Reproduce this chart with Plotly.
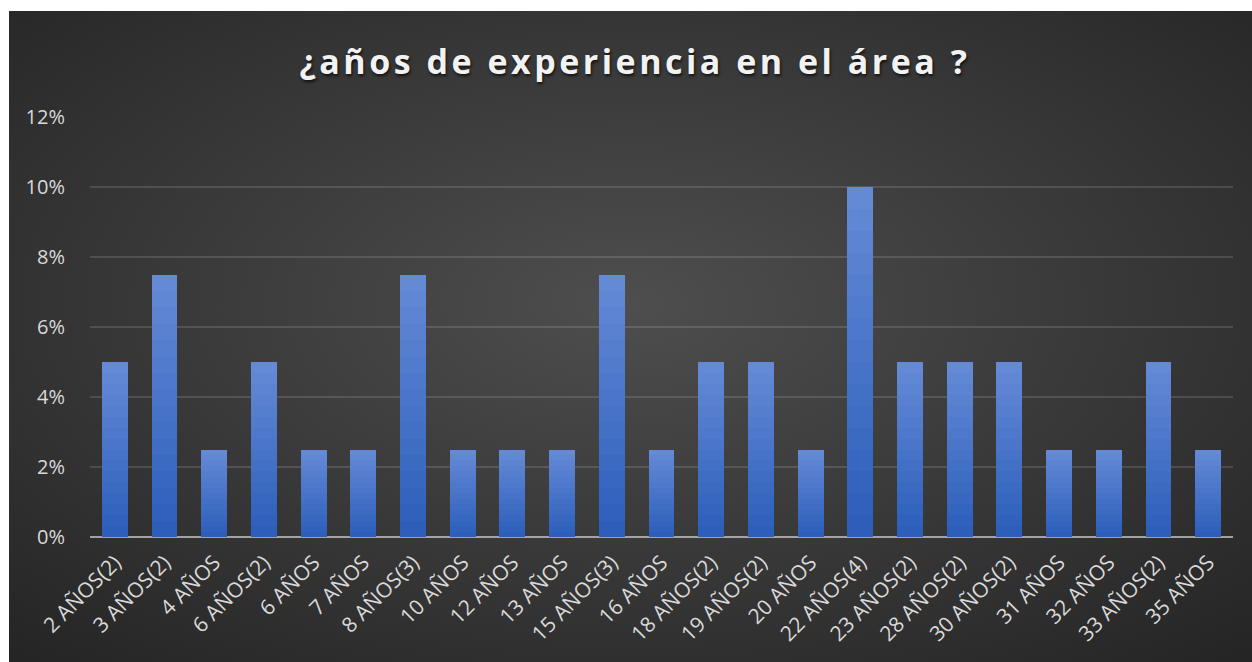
import base64
import plotly.graph_objects as go

categories = ["2 AÑOS(2)", "3 AÑOS(2)", "4 AÑOS", "6 AÑOS(2)", "6 AÑOS", "7 AÑOS",
              "8 AÑOS(3)", "10 AÑOS", "12 AÑOS", "13 AÑOS", "15 AÑOS(3)", "16 AÑOS",
              "18 AÑOS(2)", "19 AÑOS(2)", "20 AÑOS", "22 AÑOS(4)", "23 AÑOS(2)",
              "28 AÑOS(2)", "30 AÑOS(2)", "31 AÑOS", "32 AÑOS", "33 AÑOS(2)", "35 AÑOS"]
values = [5, 7.5, 2.5, 5, 2.5, 2.5, 7.5, 2.5, 2.5, 2.5, 7.5, 2.5,
          5, 5, 2.5, 10, 5, 5, 5, 2.5, 2.5, 5, 2.5]
y_ticks = [0, 2, 4, 6, 8, 10, 12]
y_ticktext = ["0%", "2%", "4%", "6%", "8%", "10%", "12%"]
title_text = "¿años de experiencia en el área ?"

W, H = 1252, 662
ML, MR, MT, MB = 90, 19, 117, 125
pw, ph = W - ML - MR, H - MT - MB

svg = f'''<svg xmlns="http://www.w3.org/2000/svg" width="1243" height="651" viewBox="0 0 1243 651">
<defs><radialGradient id="g" cx="50%" cy="45%" r="75%">
<stop offset="0" stop-color="#4e4e4e"/><stop offset="1" stop-color="#242424"/>
</radialGradient></defs>
<rect width="1243" height="651" fill="url(#g)"/></svg>'''
src = "data:image/svg+xml;base64," + base64.b64encode(svg.encode()).decode()

def px2x(p):
    return (p - ML) / pw

def px2y(p):
    return (H - MB - p) / ph

fig = go.Figure()

N = 16
c0 = (44, 94, 186)
c1 = (100, 138, 214)
for i in range(N):
    t = i / (N - 1)
    col = tuple(round(c0[k] + (c1[k] - c0[k]) * t) for k in range(3))
    fig.add_trace(go.Bar(
        x=categories, y=[v / N for v in values],
        marker=dict(color=f"rgb{col}", line=dict(width=0)),
        showlegend=False, hoverinfo="skip",
    ))

fig.update_layout(
    width=W, height=H,
    margin=dict(l=ML, r=MR, t=MT, b=MB, autoexpand=False),
    paper_bgcolor="white",
    plot_bgcolor="rgba(0,0,0,0)",
    barmode="stack", bargap=0.48,
    title=dict(
        text=f'<span style="letter-spacing:3.5px">{title_text}</span>',
        x=635 / W, xanchor="center", y=1 - 62 / H, yanchor="middle",
        font=dict(family="Open Sans", size=34, color="#f2f2f2", weight="bold",
                  shadow="1px 2px 3px rgba(0,0,0,0.7)"),
    ),
    images=[dict(source=src, xref="paper", yref="paper",
                 x=px2x(9), y=px2y(11), sizex=px2x(W) - px2x(9),
                 sizey=px2y(11) - px2y(H), xanchor="left", yanchor="top",
                 sizing="stretch", layer="below")],
)
fig.update_xaxes(
    tickangle=-45, tickfont_family="Open Sans", tickfont_size=21, tickfont_color="#d9d9d9",
    showgrid=False, showline=False, ticks="outside", ticklen=4, tickcolor="rgba(0,0,0,0)",
    zeroline=False, automargin=False,
)
fig.update_yaxes(
    range=[0, 12], tickmode="array", tickvals=y_ticks, ticktext=y_ticktext,
    tickfont_family="Open Sans", tickfont_size=20, tickfont_color="#d9d9d9",
    showgrid=True, gridcolor="rgba(255,255,255,0.13)", gridwidth=1.5,
    zeroline=True, zerolinecolor="rgba(200,200,200,0.75)", zerolinewidth=2,
    ticks="outside", ticklen=20, tickcolor="rgba(0,0,0,0)", showline=False,
    automargin=False,
)

fig.write_html("out.html")
